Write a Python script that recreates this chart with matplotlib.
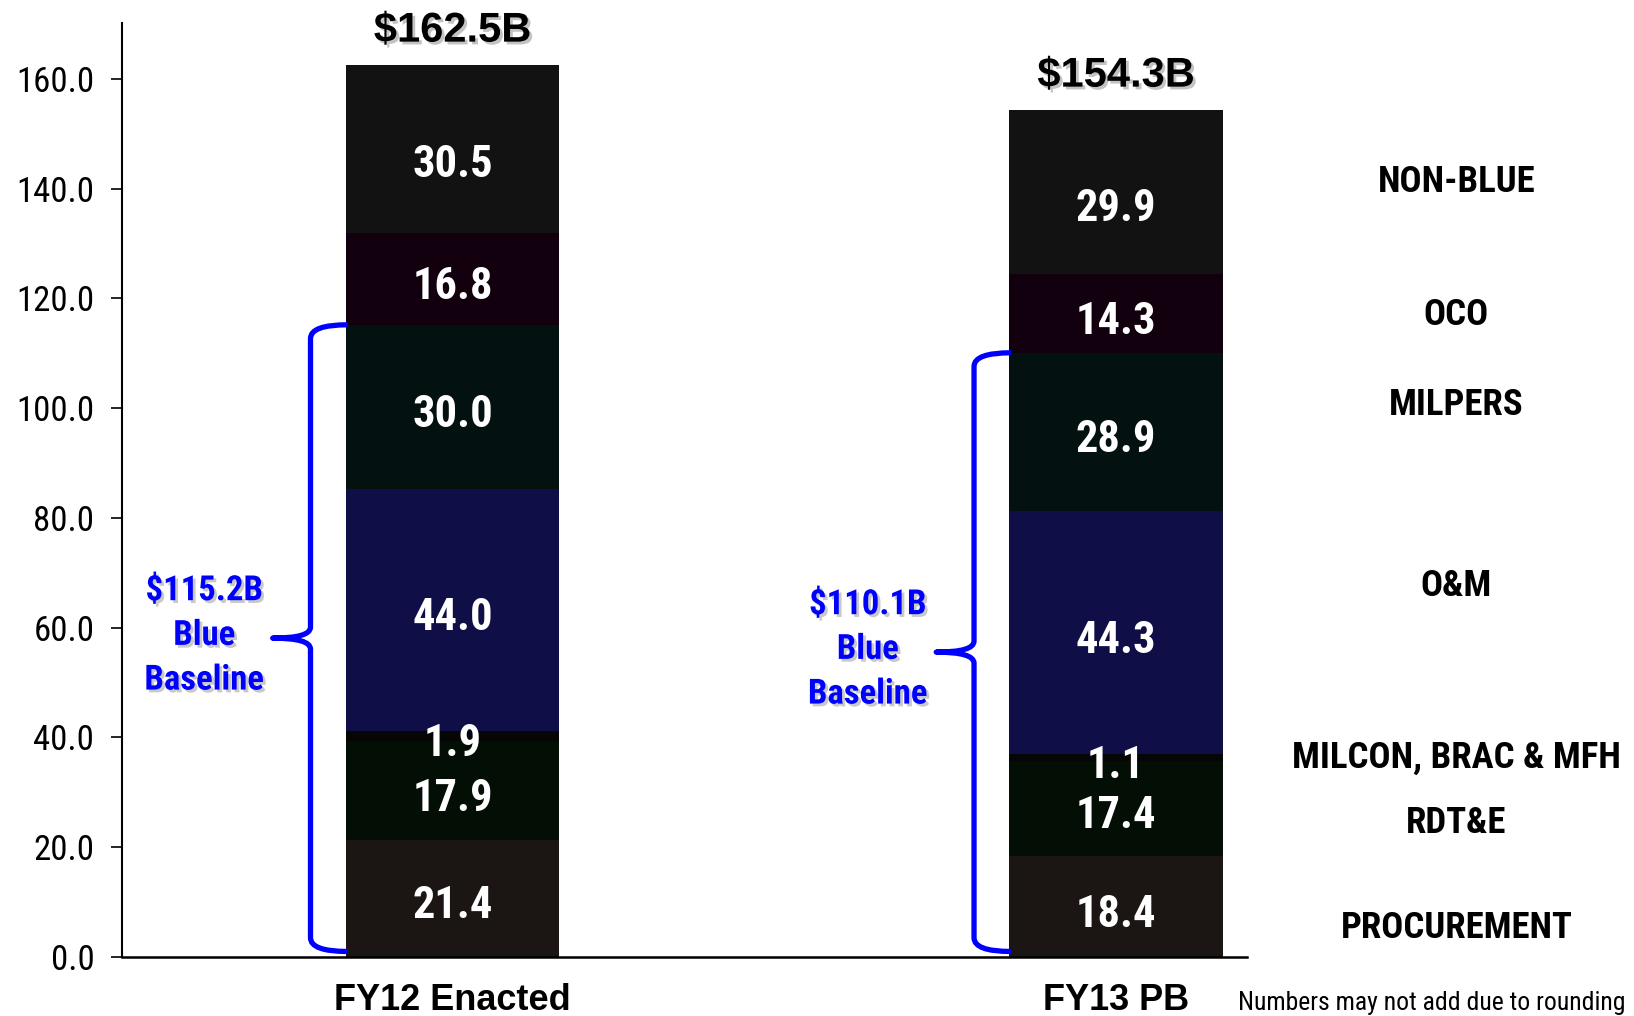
import matplotlib
matplotlib.use("Agg")
import matplotlib.pyplot as plt
import matplotlib.patheffects as pe
from matplotlib import font_manager as fm
from matplotlib.path import Path
from matplotlib.patches import PathPatch
import numpy as np

# ---- data ----
bars = ["FY12 Enacted", "FY13 PB"]
categories = ["PROCUREMENT", "RDT&E", "MILCON, BRAC & MFH", "O&M", "MILPERS", "OCO", "NON-BLUE"]
fy12 = [21.4, 17.9, 1.9, 44.0, 30.0, 16.8, 30.5]
fy13 = [18.4, 17.4, 1.1, 44.3, 28.9, 14.3, 29.9]
totals = ["$162.5B", "$154.3B"]
baseline_labels = ["$115.2B\nBlue\nBaseline", "$110.1B\nBlue\nBaseline"]
colors = ["#1b1613", "#030e04", "#060606", "#100e46", "#031211", "#12000f", "#121212"]
n_blue = 5  # first five categories form the blue baseline
footnote = "Numbers may not add due to rounding"
yticks = [0, 20, 40, 60, 80, 100, 120, 140, 160]

# pick a condensed font if one is installed
names = {f.name for f in fm.fontManager.ttflist}
narrow_stretch = "normal"
NARROW = None
for cand in ["Liberation Sans Narrow", "Arial Narrow", "Roboto Condensed",
             "DejaVu Sans Condensed", "Open Sans Condensed", "Noto Sans Condensed"]:
    if cand in names:
        NARROW = [cand, "DejaVu Sans"]
        break
if NARROW is None:
    cond = [f for f in fm.fontManager.ttflist if f.stretch in ("condensed", "semi-condensed", "extra-condensed")]
    if cond:
        NARROW = [cond[0].name, "DejaVu Sans"]
        narrow_stretch = "condensed"
    else:
        NARROW = ["Roboto", "DejaVu Sans"]
REG = ["Liberation Sans", "DejaVu Sans"]

fig = plt.figure(figsize=(16.34, 10.16), dpi=100)
ax = fig.add_axes([0.0747, 0.0581, 0.763 - 0.0747, 0.9774 - 0.0581])

x = np.arange(len(bars))
width = 0.322
series = [fy12, fy13]
for i, vals in enumerate(series):
    bottom = 0.0
    for j, v in enumerate(vals):
        ax.bar(x[i], v, width, bottom=bottom, color=colors[j], edgecolor="none", zorder=2)
        off = -1.5 if j < len(vals) - 1 else -3.0
        ax.text(x[i], bottom + v / 2 + off, f"{v:.1f}", ha="center", va="center",
                color="white", fontsize=32, fontweight="bold", family=NARROW,
                fontstretch=narrow_stretch, zorder=4)
        bottom += v
    ax.text(x[i], bottom + 6.3, totals[i], ha="center", va="center", fontsize=30,
            fontweight="bold", family=REG, color="black",
            path_effects=[pe.withSimplePatchShadow(offset=(2, -2), shadow_rgbFace="#888888", alpha=0.5)])

# braces
def brace(ax, xe, vx, xtip, top, bot, r=2.5, rm=2.0):
    mid = (top + bot) / 2
    verts = [
        (xe, top), (vx, top), (vx, top - r),
        (vx, mid + rm), (vx, mid), (xtip, mid),
        (vx, mid), (vx, mid - rm),
        (vx, bot + r), (vx, bot), (xe, bot),
    ]
    codes = [Path.MOVETO, Path.CURVE3, Path.CURVE3,
             Path.LINETO, Path.CURVE3, Path.CURVE3,
             Path.CURVE3, Path.CURVE3,
             Path.LINETO, Path.CURVE3, Path.CURVE3]
    p = PathPatch(Path(verts, codes), facecolor="none", edgecolor="#0000ff", lw=3.8,
                  capstyle="butt", joinstyle="round", zorder=3, clip_on=False)
    ax.add_patch(p)
    return mid

for i, vals in enumerate(series):
    blue_total = sum(vals[:n_blue])
    left = x[i] - width / 2
    mid = brace(ax, left + 0.003, x[i] - 0.214, x[i] - 0.271, blue_total, 1.0)
    ax.text(x[i] - 0.374, mid + 0.5, baseline_labels[i], ha="center", va="center",
            color="#0000ff", fontsize=25, fontweight="bold", family=NARROW,
            fontstretch=narrow_stretch, linespacing=1.45,
            path_effects=[pe.withSimplePatchShadow(offset=(2, -2), shadow_rgbFace="#888888", alpha=0.45)])

# category labels on the right
cat_y = [5.3, 24.5, 36.3, 67.6, 100.5, 116.9, 141.2]
for name, yy in zip(categories, cat_y):
    ax.text(1.513, yy, name, ha="center", va="center", fontsize=26.5, fontweight="bold",
            family=NARROW, fontstretch=narrow_stretch, color="black", clip_on=False)

ax.set_xlim(-0.498, 1.197)
ax.set_ylim(0, 170.2)
ax.set_yticks(yticks)
ax.set_yticklabels([f"{t:.1f}" for t in yticks], fontsize=25, family=NARROW,
                   fontstretch=narrow_stretch)
ax.set_xticks(x)
ax.set_xticklabels(bars, fontsize=26, fontweight="bold", family=REG)
ax.tick_params(axis="x", length=0, pad=19)
ax.tick_params(axis="y", length=8, width=1.2, pad=12, direction="out")
for s in ["top", "right"]:
    ax.spines[s].set_visible(False)
ax.spines["left"].set_linewidth(1.5)
ax.spines["bottom"].set_linewidth(1.8)
ax.set_facecolor("white")

fig.text(1238 / 1634, 1 - 1003 / 1016, footnote, ha="left", va="center", fontsize=18.5,
         family=NARROW, fontstretch=narrow_stretch)

fig.savefig("out.png", dpi=100, facecolor="white")
